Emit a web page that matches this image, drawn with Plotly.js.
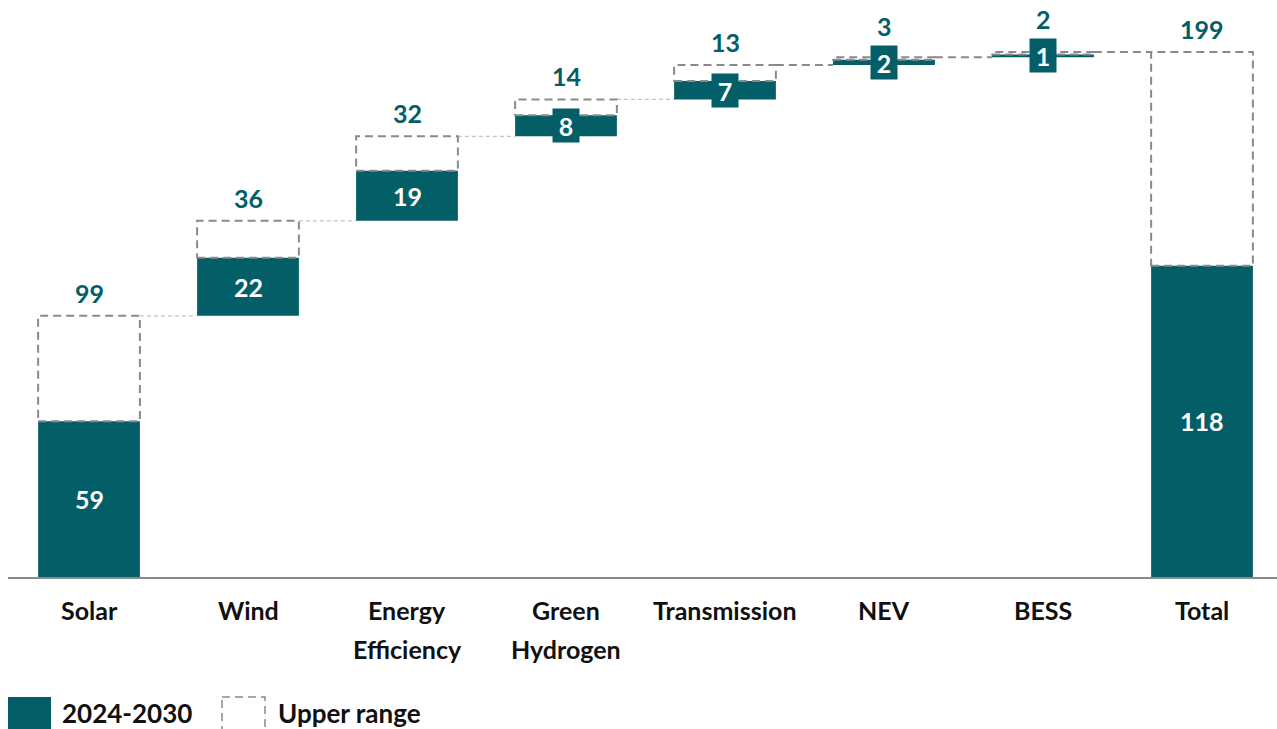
<!DOCTYPE html>
<html>
<head>
<meta charset="utf-8">
<script src="https://cdn.plot.ly/plotly-3.0.1.min.js"></script>
<style>
  html, body { margin: 0; padding: 0; background: #ffffff; }
  #chart { width: 1277px; height: 729px; }
</style>
</head>
<body>
<div id="chart"></div>
<script>
// ---- Data ----
const categories = ["Solar", "Wind", "Energy<br>Efficiency", "Green<br>Hydrogen", "Transmission", "NEV", "BESS", "Total"];
const baseValues = [59, 22, 19, 8, 7, 2, 1, 118];      // 2024-2030
const upperValues = [99, 36, 32, 14, 13, 3, 2, 199];   // Upper range
const isTotal = [false, false, false, false, false, false, false, true];
const seriesNames = ["2024-2030", "Upper range"];

// ---- Styling ----
const TEAL = "#045E67";
const DASH_GREY = "#8a8a8a";
const LIGHT_GREY = "#c4c4c4";
const FONT = "Lato, 'Open Sans', sans-serif";
const BAR_W = 0.64;
const darkConnectorFrom = 4;
const BOX_W = 26, BOX_H = 33;

// ---- Layout geometry ----
const W = 1277, H = 729;
const M = { l: 8, r: 0, t: 20, b: 152 };
const plotW = W - M.l - M.r, plotH = H - M.t - M.b;
const pxPerCat = 159;
const xMin = -(89 - M.l) / pxPerCat;
const xMax = xMin + plotW / pxPerCat;
const yMax = 211.1;
const pxPerUnit = plotH / yMax;
const px2paperX = p => (p - M.l) / plotW;
const px2paperY = p => (H - M.b - p) / plotH;
const val2px = v => H - M.b - v * pxPerUnit;

// ---- Running bases ----
const bases = [];
let run = 0;
categories.forEach((c, i) => {
  if (isTotal[i]) { bases.push(0); }
  else { bases.push(run); run += upperValues[i]; }
});
const xIdx = categories.map((c, i) => i);

const barTrace = {
  type: "bar",
  x: xIdx,
  y: baseValues,
  base: bases,
  width: BAR_W,
  marker: { color: TEAL, line: { width: 0 } },
  name: seriesNames[0],
  showlegend: false,
  hoverinfo: "skip",
  cliponaxis: false
};

const shapes = [];
const annotations = [];

// dashed upper-range boxes
categories.forEach((c, i) => {
  shapes.push({
    type: "rect", xref: "x", yref: "y", layer: "above",
    x0: i - BAR_W / 2, x1: i + BAR_W / 2,
    y0: bases[i] + baseValues[i], y1: bases[i] + upperValues[i],
    line: { color: DASH_GREY, width: 2, dash: "8px,5px" },
    fillcolor: "rgba(0,0,0,0)"
  });
});

// connectors
for (let i = 0; i < categories.length - 1; i++) {
  const lvl = bases[i] + upperValues[i];
  const dark = i >= darkConnectorFrom;
  shapes.push({
    type: "line", xref: "x", yref: "y", layer: "below",
    x0: i + BAR_W / 2, x1: i + 1 - BAR_W / 2, y0: lvl, y1: lvl,
    line: dark ? { color: DASH_GREY, width: 2, dash: "8px,5px" }
               : { color: LIGHT_GREY, width: 1.3, dash: "4px,3px" }
  });
}

// value labels
categories.forEach((c, i) => {
  const single = String(baseValues[i]).length === 1;
  const midVal = bases[i] + baseValues[i] / 2;
  const upperVal = bases[i] + upperValues[i];
  let shift = 6;
  if (single) {
    const boxTop = val2px(midVal) - BOX_H / 2;
    shift = Math.max(6, val2px(upperVal) - boxTop + 3);
  }
  // upper range label (teal, above box)
  annotations.push({
    xref: "x", yref: "y", x: i, y: upperVal,
    yanchor: "bottom", yshift: shift, showarrow: false,
    text: String(upperValues[i]),
    font: { family: FONT, size: 25, color: TEAL, weight: 700 }
  });
  // base label (white on teal)
  const a = {
    xref: "x", yref: "y", x: i, y: midVal,
    xanchor: "center", yanchor: "middle", showarrow: false,
    text: String(baseValues[i]),
    font: { family: FONT, size: 25, color: "#ffffff", weight: 700 },
    bgcolor: TEAL, borderpad: 0
  };
  if (single) { a.width = BOX_W; a.height = BOX_H; }
  annotations.push(a);
});

// category labels (line by line)
categories.forEach((c, i) => {
  c.split("<br>").forEach((line, k) => {
    annotations.push({
      xref: "x", yref: "paper", x: i, y: px2paperY(610 + k * 39),
      xanchor: "center", yanchor: "middle", showarrow: false,
      text: line,
      font: { family: FONT, size: 25, color: "#111111", weight: 700 }
    });
  });
});

// custom legend
shapes.push({
  type: "rect", xref: "paper", yref: "paper", layer: "above",
  x0: px2paperX(8), x1: px2paperX(51), y0: px2paperY(697), y1: px2paperY(731),
  fillcolor: TEAL, line: { width: 0 }
});
shapes.push({
  type: "rect", xref: "paper", yref: "paper", layer: "above",
  x0: px2paperX(222), x1: px2paperX(265), y0: px2paperY(697), y1: px2paperY(731),
  fillcolor: "rgba(0,0,0,0)", line: { color: DASH_GREY, width: 1.5, dash: "8px,5px" }
});
annotations.push({
  xref: "paper", yref: "paper", x: px2paperX(60), y: px2paperY(713),
  xanchor: "left", yanchor: "middle", showarrow: false, text: seriesNames[0],
  font: { family: FONT, size: 26, color: "#111111", weight: 700 }
});
annotations.push({
  xref: "paper", yref: "paper", x: px2paperX(276), y: px2paperY(713),
  xanchor: "left", yanchor: "middle", showarrow: false, text: seriesNames[1],
  font: { family: FONT, size: 26, color: "#111111", weight: 700 }
});

const layout = {
  width: W, height: H,
  margin: M,
  paper_bgcolor: "#ffffff", plot_bgcolor: "#ffffff",
  showlegend: false,
  xaxis: {
    range: [xMin, xMax], showgrid: false, zeroline: false,
    showline: true, linecolor: DASH_GREY, linewidth: 2,
    showticklabels: false, ticks: "", fixedrange: true
  },
  yaxis: {
    range: [0, yMax], visible: false, showgrid: false, zeroline: false, fixedrange: true
  },
  shapes: shapes,
  annotations: annotations
};

Plotly.newPlot("chart", [barTrace], layout, { displayModeBar: false, staticPlot: true });
</script>
</body>
</html>
